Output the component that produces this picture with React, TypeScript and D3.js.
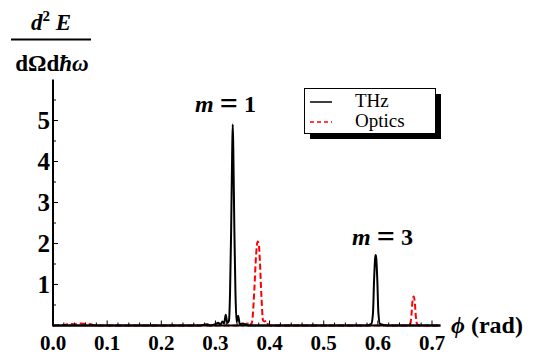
import React, { useEffect, useRef } from "react";
import * as d3 from "d3";

// phi (rad) samples and spectra
const thzPhi = [0, 0.1, 0.2, 0.27, 0.285, 0.29, 0.3, 0.305, 0.309, 0.313, 0.316, 0.319, 0.322, 0.325, 0.327, 0.329, 0.331, 0.332, 0.333, 0.335, 0.337, 0.339, 0.342, 0.345, 0.35, 0.36, 0.45, 0.58, 0.588, 0.591, 0.593, 0.595, 0.596, 0.597, 0.599, 0.601, 0.604, 0.62, 0.715];
const thzVal = [0, 0, 0, 0, 0.03, 0, 0.03, 0.07, 0.02, 0.1, 0.05, 0.26, 0.06, 0.12, 0.8, 2.3, 4.3, 4.9, 4.3, 2.3, 0.8, 0.08, 0.24, 0.03, 0.05, 0, 0, 0, 0.04, 0.3, 1.1, 1.65, 1.72, 1.65, 1.1, 0.3, 0.04, 0, 0];

const optPhi = [0, 0.02, 0.03, 0.04, 0.05, 0.06, 0.07, 0.08, 0.2, 0.35, 0.362, 0.366, 0.369, 0.372, 0.375, 0.378, 0.38, 0.382, 0.385, 0.388, 0.391, 0.394, 0.397, 0.4, 0.5, 0.655, 0.66, 0.662, 0.664, 0.666, 0.668, 0.67, 0.672, 0.677, 0.715];
const optVal = [0, 0.01, 0.04, 0.03, 0.05, 0.04, 0.03, 0, 0, 0, 0.06, 0.02, 0.25, 0.9, 1.7, 2.05, 2.0, 1.6, 0.7, 0.12, 0.1, 0.12, 0.03, 0, 0, 0, 0.05, 0.25, 0.6, 0.71, 0.6, 0.25, 0.05, 0, 0];

const xMajor = [0, 0.1, 0.2, 0.3, 0.4, 0.5, 0.6, 0.7];
const yMajor = [1, 2, 3, 4, 5];
const legendNames = ["THz", "Optics"];

const serif = "'Liberation Serif', 'Times New Roman', serif";

export default function App() {
  const ref = useRef<SVGSVGElement>(null);

  useEffect(() => {
    const width = 533, height = 356;
    const svg = d3.select(ref.current).attr("width", width).attr("height", height);
    svg.selectAll("*").remove();

    const x = d3.scaleLinear().domain([0, 0.7]).range([53, 432]);
    const y = d3.scaleLinear().domain([0, 6]).range([325.5, 79.5]);

    const line = d3.line<[number, number]>()
      .x(d => x(d[0]))
      .y(d => y(d[1]))
      .curve(d3.curveMonotoneX);

    const opt = optPhi.map((p, i) => [p, optVal[i]] as [number, number]);
    const thz = thzPhi.map((p, i) => [p, thzVal[i]] as [number, number]);

    svg.append("path").attr("d", line(opt)).attr("fill", "none")
      .attr("stroke", "#ff0000").attr("stroke-width", 2).attr("stroke-dasharray", "6,3");
    svg.append("path").attr("d", line(thz)).attr("fill", "none")
      .attr("stroke", "#000").attr("stroke-width", 2).attr("stroke-linejoin", "round");

    // axes
    const ax = svg.append("g").attr("stroke", "#000");
    ax.append("line").attr("x1", x(0)).attr("x2", x(0.716)).attr("y1", y(0)).attr("y2", y(0)).attr("stroke-width", 2);
    ax.append("line").attr("x1", x(0)).attr("x2", x(0)).attr("y1", y(0) + 1).attr("y2", y(6)).attr("stroke-width", 2);

    const xMinor = d3.range(0.02, 0.715, 0.02).filter(v => !xMajor.some(m => Math.abs(m - v) < 1e-6));
    xMajor.forEach(v => ax.append("line").attr("x1", x(v)).attr("x2", x(v)).attr("y1", y(0)).attr("y2", y(0) - 5).attr("stroke-width", 1));
    xMinor.forEach(v => ax.append("line").attr("x1", x(v)).attr("x2", x(v)).attr("y1", y(0)).attr("y2", y(0) - 3).attr("stroke-width", 1));

    const yMinor = d3.range(0.5, 6, 1);
    yMajor.forEach(v => ax.append("line").attr("x1", x(0)).attr("x2", x(0) + 5).attr("y1", y(v)).attr("y2", y(v)).attr("stroke-width", 1));
    yMinor.forEach(v => ax.append("line").attr("x1", x(0)).attr("x2", x(0) + 3).attr("y1", y(v)).attr("y2", y(v)).attr("stroke-width", 1));

    const txt = svg.append("g").attr("font-family", serif).attr("font-weight", "bold").attr("fill", "#000");
    xMajor.forEach(v => txt.append("text").attr("x", x(v)).attr("y", 349.5).attr("text-anchor", "middle")
      .attr("font-size", 21).text(v.toFixed(1)));
    yMajor.forEach(v => txt.append("text").attr("x", 50).attr("y", y(v) + 8.5).attr("text-anchor", "end")
      .attr("font-size", 25).text(String(v)));

    // x label
    const xl = txt.append("text").attr("x", 451).attr("y", 333).attr("font-size", 24);
    xl.append("tspan").attr("font-style", "italic").text("ϕ");
    xl.append("tspan").text(" (rad)");

    // y label as fraction
    const num = txt.append("text").attr("x", 51).attr("y", 30).attr("text-anchor", "middle").attr("font-size", 23);
    num.append("tspan").attr("font-style", "italic").text("d");
    num.append("tspan").attr("font-size", 15).attr("dy", -9).text("2");
    num.append("tspan").attr("dy", 9).attr("font-style", "italic").text(" E");
    svg.append("line").attr("x1", 11).attr("x2", 91).attr("y1", 39.5).attr("y2", 39.5).attr("stroke", "#000").attr("stroke-width", 2);
    const den = txt.append("text").attr("x", 52).attr("y", 71).attr("text-anchor", "middle").attr("font-size", 23);
    den.append("tspan").text("dΩd");
    den.append("tspan").attr("font-style", "italic").text("ħω");

    // peak annotations
    const peakLabel = (x0: number, y0: number, n: string) => {
      const t = txt.append("text").attr("x", x0).attr("y", y0).attr("font-size", 24);
      t.append("tspan").attr("font-style", "italic").text("m");
      t.append("tspan").attr("font-size", 32).attr("dx", 6).attr("dy", 2).text("=");
      t.append("tspan").attr("dx", 6).attr("dy", -2).text(n);
    };
    peakLabel(195, 112, "1");
    peakLabel(352, 245, "3");

    // legend
    const lg = svg.append("g");
    lg.append("rect").attr("x", 310).attr("y", 94).attr("width", 131).attr("height", 45).attr("fill", "#000");
    lg.append("rect").attr("x", 304.5).attr("y", 88.5).attr("width", 131).attr("height", 45)
      .attr("fill", "#fff").attr("stroke", "#000").attr("stroke-width", 1);
    legendNames.forEach((name, i) => {
      const ly = 102 + i * 20;
      lg.append("line").attr("x1", 310).attr("x2", 332).attr("y1", ly).attr("y2", ly)
        .attr("stroke", i === 0 ? "#000" : "#ff0000").attr("stroke-width", 1.5)
        .attr("stroke-dasharray", i === 0 ? null : "4,3");
      lg.append("text").attr("x", 355).attr("y", ly + 5).attr("font-family", serif)
        .attr("font-size", 19).attr("fill", "#000").text(name);
    });
  }, []);

  return (
    <div style={{ position: "absolute", left: 0, top: 0 }}>
      <svg ref={ref}></svg>
    </div>
  );
}
